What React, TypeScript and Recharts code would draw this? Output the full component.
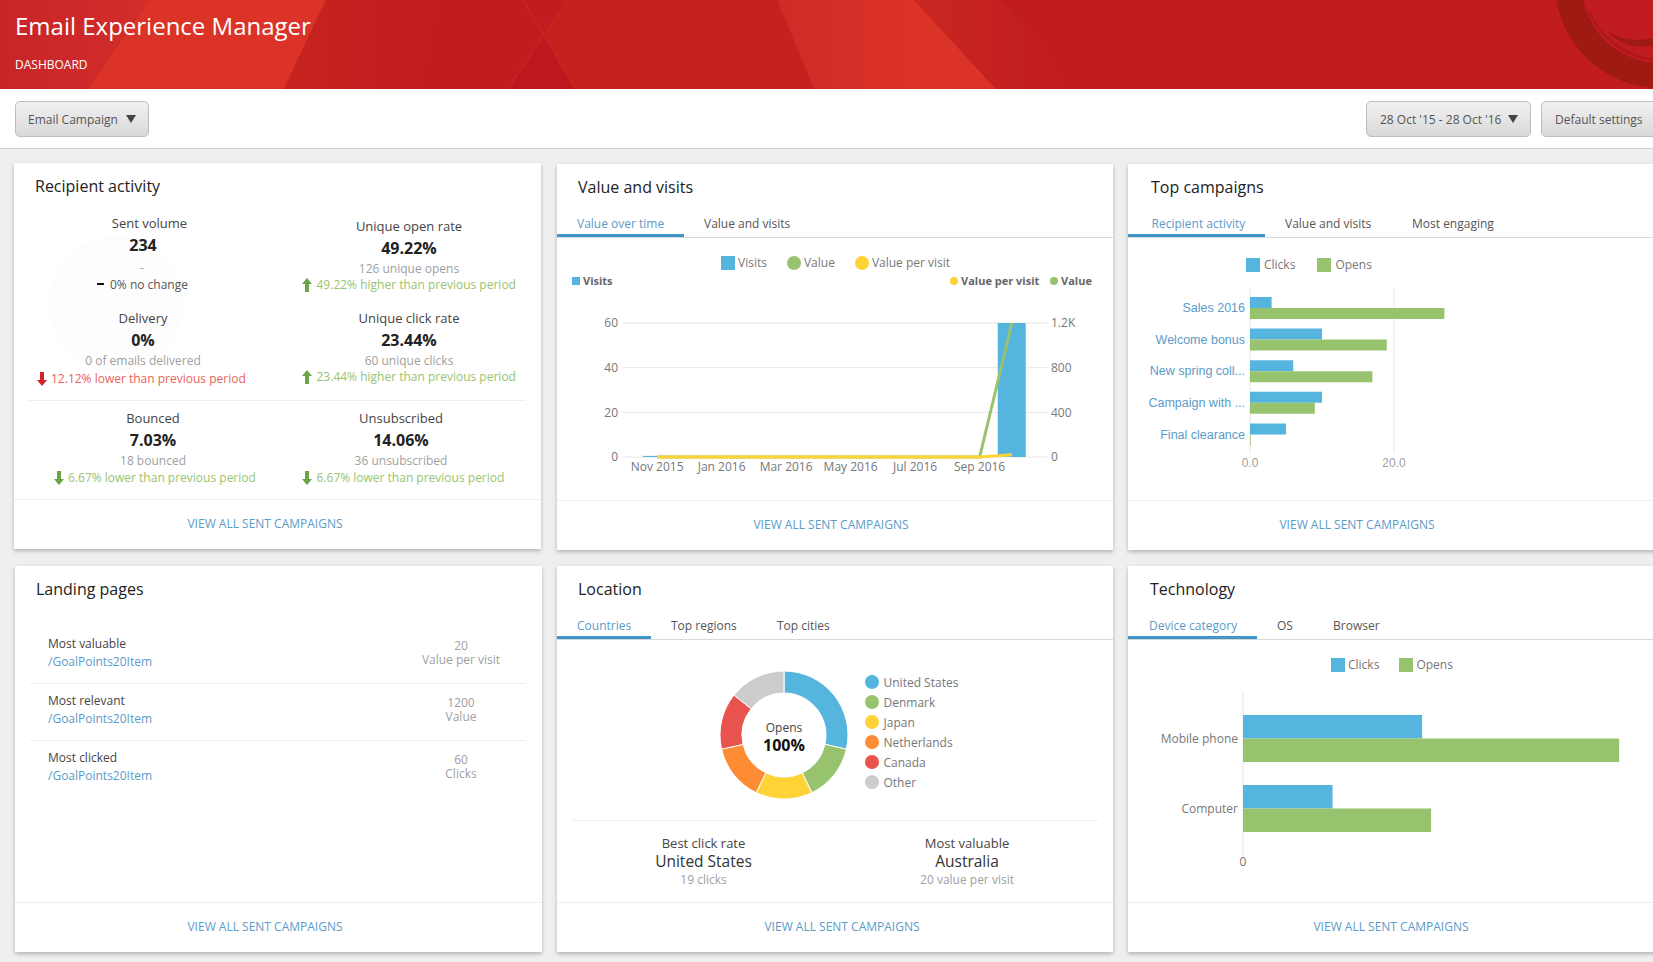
import { Bar, BarChart, CartesianGrid, Cell, ComposedChart, Legend, Line, Pie, PieChart, XAxis, YAxis } from "recharts";

const BLUE = "#55b5df";
const GREEN = "#97c36f";
const YELLOW = "#fdd336";
const FONT = "'Open Sans', sans-serif";
const ARIAL = "'Liberation Sans', Arial, sans-serif";
const LINK = "#5b9bc8";

const months = ["Nov 2015", "Dec 2015", "Jan 2016", "Feb 2016", "Mar 2016", "Apr 2016", "May 2016", "Jun 2016", "Jul 2016", "Aug 2016", "Sep 2016", "Oct 2016"];
const visits = [0.5, 0, 0, 0, 0, 0, 0, 0, 0, 0, 0, 60];
const value = [0, 0, 0, 0, 0, 0, 0, 0, 0, 0, 0, 1200];
const valuePerVisit = [0, 0, 0, 0, 0, 0, 0, 0, 0, 0, 0, 20];

const campaigns = ["Sales 2016", "Welcome bonus", "New spring coll...", "Campaign with ...", "Final clearance"];
const campaignClicks = [3, 10, 6, 10, 5];
const campaignOpens = [27, 19, 17, 9, 0.1];

const countries = ["United States", "Denmark", "Japan", "Netherlands", "Canada", "Other"];
const countryOpens = [2, 1, 1, 1, 1, 1];
const countryColors = [BLUE, GREEN, YELLOW, "#fd8c35", "#e9534e", "#cccccc"];

const devices = ["Mobile phone", "Computer"];
const deviceClicks = [40, 20];
const deviceOpens = [84, 42];

const timeData = months.map((month, i) => ({ month, visits: visits[i], value: value[i], valuePerVisit: valuePerVisit[i] }));
const campaignData = campaigns.map((name, i) => ({ name, clicks: campaignClicks[i], opens: campaignOpens[i] }));
const countryData = countries.map((name, i) => ({ name, opens: countryOpens[i] }));
const deviceData = devices.map((name, i) => ({ name, clicks: deviceClicks[i], opens: deviceOpens[i] }));

// y is the vertical centre of the text
function T({ x, y, children, size = 12, color = "#777", bold = false, center = false, font = FONT }: any) {
  const lh = Math.round(size * 1.2);
  return (
    <div
      style={{
        position: "absolute",
        left: x,
        top: y - lh / 2,
        height: lh,
        lineHeight: `${lh}px`,
        fontSize: size,
        color,
        fontWeight: bold ? 700 : 400,
        fontFamily: font,
        whiteSpace: "nowrap",
        transform: center ? "translateX(-50%)" : undefined,
      }}
    >
      {children}
    </div>
  );
}

function Box({ x, y, w, h, style }: any) {
  return <div style={{ position: "absolute", left: x, top: y, width: w, height: h, ...style }} />;
}

function Card({ x, y, w, h, footerY, footerX, footerDy = 24.5 }: any) {
  return (
    <>
      <Box x={x} y={y} w={w} h={h} style={{ background: "#fff", boxShadow: "0 2px 4px rgba(0,0,0,0.25)" }} />
      <Box x={x} y={footerY} w={w} h={1} style={{ background: "#eeeeee" }} />
      <T x={footerX} y={footerY + footerDy} color={LINK} center>VIEW ALL SENT CAMPAIGNS</T>
    </>
  );
}

function Tabs({ x, w, y, activeW, labels }: any) {
  return (
    <>
      <Box x={x} y={y} w={w} h={1} style={{ background: "#d8d8d8" }} />
      <Box x={x} y={y - 3} w={activeW} h={3} style={{ background: "#3f97c9" }} />
      {labels.map((l: any, i: number) => (
        <T key={l[0]} x={l[1]} y={y - 13.5} color={i === 0 ? LINK : "#555"}>{l[0]}</T>
      ))}
    </>
  );
}

function Button({ x, w, label, textX, arrowX }: any) {
  return (
    <>
      <Box x={x} y={101} w={w} h={36} style={{ boxSizing: "border-box", border: "1px solid #bdbdbd", borderRadius: 5, background: "linear-gradient(#f1f1f1, #d9d9d9)" }} />
      <T x={textX} y={119.5} color="#555">{label}</T>
      {arrowX ? <Box x={arrowX - 5} y={115} w={0} h={0} style={{ borderLeft: "5px solid transparent", borderRight: "5px solid transparent", borderTop: "8px solid #444" }} /> : null}
    </>
  );
}

function Arrow({ x, y, up, color }: any) {
  return (
    <svg style={{ position: "absolute", left: x, top: y - 7 }} width={10} height={14}>
      <path d={up ? "M5 0 L10 6 L7 6 L7 14 L3 14 L3 6 L0 6 Z" : "M5 14 L10 8 L7 8 L7 0 L3 0 L3 8 L0 8 Z"} fill={color} />
    </svg>
  );
}

function Stat({ cx, y, title, big, sub, change, changeX, arrowX, up, good = true, changeDy = 60 }: any) {
  const tone = good ? "#97c36f" : "#e9625c";
  const arrowTone = good ? "#6aa548" : "#d2232a";
  return (
    <>
      <T x={cx} y={y} color="#444" size={13} center>{title}</T>
      <T x={cx} y={y + 22} color="#222" size={16} bold center>{big}</T>
      <T x={cx} y={y + 42.5} color="#a0a0a0" center>{sub}</T>
      <Arrow x={arrowX} y={y + changeDy} up={up} color={arrowTone} />
      <T x={changeX} y={y + changeDy} color={tone}>{change}</T>
    </>
  );
}

function SquareLegend({ items, gap, x, y, textGap = 3 }: any) {
  return (
    <div style={{ position: "absolute", left: x, top: y, display: "flex", fontFamily: FONT, fontSize: 12, color: "#777", lineHeight: "14px", whiteSpace: "nowrap" }}>
      {items.map((it: any, i: number) => (
        <span key={it.value} style={{ display: "flex", alignItems: "center", marginLeft: i ? gap : 0 }}>
          <span style={{ width: 14, height: 14, marginRight: textGap, background: it.color, borderRadius: it.type === "circle" ? 7 : 0 }} />
          {it.value}
        </span>
      ))}
    </div>
  );
}

function ValueChart() {
  return (
    <ComposedChart
      width={556}
      height={240}
      data={timeData}
      margin={{ top: 83, right: 16, bottom: 0, left: 15 }}
      style={{ position: "absolute", left: 557, top: 240 }}
    >
      <CartesianGrid vertical={false} stroke="#e6e6e6" yAxisId="left" syncWithTicks />
      <XAxis dataKey="month" interval={1} axisLine={false} tickLine={false} padding={{ left: 19, right: 19 }} tick={{ fontSize: 12, fill: "#777", fontFamily: FONT }} tickSize={5} tickMargin={0} height={23} />
      <YAxis yAxisId="left" width={50} domain={[0, 60]} ticks={[0, 20, 40, 60]} axisLine={false} tickLine={false} tickSize={0} tickMargin={4} tick={{ fontSize: 12, fill: "#777", fontFamily: FONT }} />
      <YAxis yAxisId="right" orientation="right" width={50} domain={[0, 1200]} ticks={[0, 400, 800, 1200]} axisLine={false} tickLine={false} tickSize={0} tickMargin={4} tickFormatter={(v) => (v >= 1000 ? `${v / 1000}K` : `${v}`)} tick={{ fontSize: 12, fill: "#777", fontFamily: FONT }} />
      <Legend
        content={() => (
          <SquareLegend
            x={164}
            y={16}
            gap={20}
            items={[
              { value: "Visits", color: BLUE },
              { value: "Value", color: GREEN, type: "circle" },
              { value: "Value per visit", color: YELLOW, type: "circle" },
            ]}
          />
        )}
        wrapperStyle={{ left: 0, top: 0, width: 556, height: 0 }}
      />
      <Bar yAxisId="left" dataKey="visits" name="Visits" fill={BLUE} barSize={28} isAnimationActive={false} />
      <Line yAxisId="right" dataKey="value" name="Value" stroke={GREEN} strokeWidth={3} dot={false} isAnimationActive={false} />
      <Line yAxisId="right" dataKey="valuePerVisit" name="Value per visit" stroke={YELLOW} strokeWidth={3} dot={false} isAnimationActive={false} />
    </ComposedChart>
  );
}

function CampaignChart() {
  return (
    <BarChart
      width={525}
      height={200}
      data={campaignData}
      layout="vertical"
      barGap={0}
      margin={{ top: 17, right: 115, bottom: 0, left: 0 }}
      style={{ position: "absolute", left: 1128, top: 270 }}
    >
      <CartesianGrid horizontal={false} stroke="#e6e6e6" syncWithTicks />
      <XAxis type="number" domain={[0, 40]} ticks={[0, 20]} tickFormatter={(v) => v.toFixed(1)} axisLine={false} tickLine={false} tick={{ fontSize: 12, fill: "#a0a0a0", fontFamily: ARIAL }} tickSize={5} tickMargin={0} height={17} />
      <YAxis type="category" dataKey="name" width={122} interval={0} axisLine={false} tickLine={false} padding={{ top: 5, bottom: 3 }} tickSize={0} tickMargin={5} tick={{ fontSize: 12.5, fill: LINK, fontFamily: ARIAL }} />
      <Legend
        content={() => (
          <SquareLegend x={118} y={-12} gap={22} textGap={4} items={[{ value: "Clicks", color: BLUE }, { value: "Opens", color: GREEN }]} />
        )}
        wrapperStyle={{ left: 0, top: 0, width: 525, height: 0 }}
      />
      <Bar dataKey="clicks" name="Clicks" fill={BLUE} barSize={11} isAnimationActive={false} />
      <Bar dataKey="opens" name="Opens" fill={GREEN} barSize={11} isAnimationActive={false} />
    </BarChart>
  );
}

function CountryChart() {
  return (
    <PieChart width={556} height={150} margin={{ top: 0, right: 0, bottom: 0, left: 0 }} style={{ position: "absolute", left: 557, top: 659 }}>
      <Legend
        content={() => (
          <div style={{ position: "absolute", left: 308, top: 13, fontFamily: FONT, fontSize: 12, color: "#777", whiteSpace: "nowrap" }}>
            {countries.map((c, i) => (
              <div key={c} style={{ display: "flex", alignItems: "center", height: 20 }}>
                <span style={{ width: 14, height: 14, borderRadius: 7, marginRight: 4.5, background: countryColors[i] }} />
                {c}
              </div>
            ))}
          </div>
        )}
        wrapperStyle={{ left: 0, top: 0, width: 556, height: 0 }}
      />
      <Pie
        data={countryData}
        dataKey="opens"
        nameKey="name"
        cx={227}
        cy={76}
        innerRadius={42}
        outerRadius={64}
        startAngle={90}
        endAngle={-270}
        stroke="#fff"
        strokeWidth={1}
        isAnimationActive={false}
      >
        {countryData.map((d, i) => (
          <Cell key={d.name} fill={countryColors[i]} />
        ))}
      </Pie>
    </PieChart>
  );
}

function DeviceChart() {
  return (
    <BarChart
      width={525}
      height={190}
      data={deviceData}
      layout="vertical"
      barGap={0}
      margin={{ top: 12, right: 7, bottom: 0, left: 15 }}
      style={{ position: "absolute", left: 1128, top: 680 }}
    >
      <CartesianGrid horizontal={false} stroke="#e6e6e6" syncWithTicks />
      <XAxis type="number" domain={[0, 90]} ticks={[0]} axisLine={false} tickLine={false} tick={{ fontSize: 12, fill: "#777", fontFamily: FONT }} tickSize={0} tickMargin={0} height={13} />
      <YAxis type="category" dataKey="name" width={100} interval={0} axisLine={false} tickLine={false} padding={{ top: 11, bottom: 14 }} tickSize={0} tickMargin={5} tick={{ fontSize: 12, fill: "#777", fontFamily: FONT, dy: 1 }} />
      <Legend
        content={() => (
          <SquareLegend x={203} y={-22} gap={20} items={[{ value: "Clicks", color: BLUE }, { value: "Opens", color: GREEN }]} />
        )}
        wrapperStyle={{ left: 0, top: 0, width: 525, height: 0 }}
      />
      <Bar dataKey="clicks" name="Clicks" fill={BLUE} barSize={23.5} isAnimationActive={false} />
      <Bar dataKey="opens" name="Opens" fill={GREEN} barSize={23.5} isAnimationActive={false} />
    </BarChart>
  );
}

function Header() {
  return (
    <svg style={{ position: "absolute", left: 0, top: 0 }} width={1653} height={89}>
      <defs>
        <linearGradient id="left" x1="0" x2="1" y1="0" y2="0">
          <stop offset="0" stopColor="#c82529" />
          <stop offset="1" stopColor="#d22d29" />
        </linearGradient>
        <linearGradient id="bright" x1="0" x2="1" y1="0" y2="0">
          <stop offset="0" stopColor="#d02b26" />
          <stop offset="0.7" stopColor="#dd3428" />
          <stop offset="1" stopColor="#da3228" />
        </linearGradient>
        <linearGradient id="mid" x1="0" x2="1" y1="0" y2="0">
          <stop offset="0" stopColor="#c92720" />
          <stop offset="1" stopColor="#c01b20" />
        </linearGradient>
        <linearGradient id="dim" x1="0" x2="1" y1="0" y2="0">
          <stop offset="0" stopColor="#c7241f" />
          <stop offset="1" stopColor="#c11c20" />
        </linearGradient>
      </defs>
      <rect width={1653} height={89} fill="#c11c20" />
      <polygon points="0,0 149,0 88,89 0,89" fill="url(#left)" />
      <polygon points="149,0 326,0 284,89 88,89" fill="#dc3328" />
      <polygon points="326,0 440,0 420,89 284,89" fill="url(#dim)" />
      <polygon points="567,0 777,0 814,89 508,89" fill="#c4211f" />
      <polygon points="544,35 508,89 575,89" fill="#bd181d" />
      <line x1={523} y1={0} x2={575} y2={89} stroke="#cd2a27" />
      <line x1={567} y1={0} x2={508} y2={89} stroke="#cd2a27" />
      <polygon points="777,0 914,0 996,89 814,89" fill="url(#bright)" />
      <polygon points="914,0 1000,0 1080,89 996,89" fill="url(#mid)" />
      <circle cx={1660} cy={-17} r={105} fill="#a01a14" />
      <circle cx={1660} cy={-15} r={78} fill="#c01b20" />
      <path d="M1589 12 Q1608 52 1653 60" fill="none" stroke="#a01a14" strokeWidth={1.5} />
      <path d="M1608 32 Q1630 44 1653 38 L1653 46 Q1625 50 1608 32 Z" fill="#a01a14" />
    </svg>
  );
}

export default function App() {
  return (
    <div style={{ position: "absolute", left: 0, top: 0, width: 1653, height: 962, overflow: "hidden", background: "#efefef", fontFamily: FONT }}>
      <Header />
      <T x={15} y={25.5} size={24} color="#fff">Email Experience Manager</T>
      <T x={15} y={65} size={12} color="#fff">DASHBOARD</T>
      <Box x={0} y={89} w={1653} h={59} style={{ background: "#fff", borderBottom: "1px solid #cfcfcf" }} />
      <Button x={15} w={134} label="Email Campaign" textX={28} arrowX={131} />
      <Button x={1366} w={165} label="28 Oct '15 - 28 Oct '16" textX={1380} arrowX={1513} />
      <Button x={1541} w={130} label="Default settings" textX={1555} />

      <Card x={14} y={163} w={527} h={386} footerY={499} footerX={265} />
      <Card x={557} y={164} w={556} h={386} footerY={500} footerX={831} />
      <Card x={1128} y={164} w={540} h={386} footerY={500} footerX={1357} />

      {/* recipient activity */}
      <T x={35} y={186} size={16} color="#222">Recipient activity</T>
      <Box x={48} y={236} w={136} h={136} style={{ borderRadius: "50%", background: "#fdfdfd" }} />
      <T x={149.5} y={223} color="#444" size={13} center>Sent volume</T>
      <T x={143} y={245} color="#222" size={16} bold center>234</T>
      <T x={142} y={268} color="#a0a0a0" center>-</T>
      <Box x={97} y={283} w={7} h={2} style={{ background: "#111" }} />
      <T x={110} y={285} color="#555">0% no change</T>
      <Stat cx={143} y={318} title="Delivery" big="0%" sub="0 of emails delivered" change="12.12% lower than previous period" changeX={51} arrowX={37} good={false} changeDy={61} />
      <Stat cx={409} y={226} title="Unique open rate" big="49.22%" sub="126 unique opens" change="49.22% higher than previous period" changeX={316.5} arrowX={302} up changeDy={59} />
      <Stat cx={409} y={318} title="Unique click rate" big="23.44%" sub="60 unique clicks" change="23.44% higher than previous period" changeX={316.5} arrowX={302} up changeDy={59} />
      <Box x={29} y={400} w={497} h={1} style={{ background: "#eeeeee" }} />
      <Stat cx={153} y={418} title="Bounced" big="7.03%" sub="18 bounced" change="6.67% lower than previous period" changeX={68} arrowX={54} />
      <Stat cx={401} y={418} title="Unsubscribed" big="14.06%" sub="36 unsubscribed" change="6.67% lower than previous period" changeX={316.5} arrowX={302} />

      {/* value and visits */}
      <T x={578} y={187} size={16} color="#222">Value and visits</T>
      <Tabs x={557} w={556} y={237} activeW={127} labels={[["Value over time", 577], ["Value and visits", 704]]} />
      <ValueChart />
      <Box x={572} y={277} w={8} h={8} style={{ background: BLUE }} />
      <T x={583} y={280.5} size={11} bold color="#666">Visits</T>
      <Box x={950} y={277} w={8} h={8} style={{ background: YELLOW, borderRadius: 4 }} />
      <T x={961} y={280.5} size={11} bold color="#666">Value per visit</T>
      <Box x={1050} y={277} w={8} h={8} style={{ background: GREEN, borderRadius: 4 }} />
      <T x={1061} y={280.5} size={11} bold color="#666">Value</T>

      {/* top campaigns */}
      <T x={1151} y={187} size={16} color="#222">Top campaigns</T>
      <Tabs x={1128} w={525} y={237} activeW={137} labels={[["Recipient activity", 1151.5], ["Value and visits", 1285], ["Most engaging", 1412]]} />
      <CampaignChart />

      {/* bottom row */}
      <Card x={15} y={566} w={527} h={386} footerY={902} footerX={265} footerDy={25} />
      <Card x={557} y={566} w={556} h={386} footerY={902} footerX={842} footerDy={25} />
      <Card x={1128} y={566} w={540} h={386} footerY={902} footerX={1391} footerDy={25} />

      <T x={36} y={589} size={16} color="#222">Landing pages</T>
      {[
        ["Most valuable", "20", "Value per visit", 644],
        ["Most relevant", "1200", "Value", 701],
        ["Most clicked", "60", "Clicks", 758],
      ].map((r: any) => (
        <div key={r[0]}>
          <T x={48} y={r[3]} color="#444">{r[0]}</T>
          <T x={48} y={r[3] + 18} color={LINK}>/GoalPoints20Item</T>
          <T x={461} y={r[3] + 1.5} color="#a0a0a0" center>{r[1]}</T>
          <T x={461} y={r[3] + 16} color="#a0a0a0" center>{r[2]}</T>
        </div>
      ))}
      <Box x={30} y={683} w={496} h={1} style={{ background: "#eeeeee" }} />
      <Box x={30} y={740} w={496} h={1} style={{ background: "#eeeeee" }} />

      <T x={578} y={589} size={16} color="#222">Location</T>
      <Tabs x={557} w={556} y={639} activeW={94} labels={[["Countries", 577], ["Top regions", 671], ["Top cities", 777]]} />
      <CountryChart />
      <T x={784} y={728} color="#444" center>Opens</T>
      <T x={784} y={745} size={16} bold color="#111" center>100%</T>
      <Box x={572} y={820} w={526} h={1} style={{ background: "#eeeeee" }} />
      <T x={703.5} y={843} size={13} color="#444" center>Best click rate</T>
      <T x={703.5} y={861.5} size={15.5} color="#333" center>United States</T>
      <T x={703.5} y={880} color="#a0a0a0" center>19 clicks</T>
      <T x={967} y={843} size={13} color="#444" center>Most valuable</T>
      <T x={967} y={861.5} size={15.5} color="#333" center>Australia</T>
      <T x={967} y={880} color="#a0a0a0" center>20 value per visit</T>

      <T x={1150} y={589} size={16} color="#222">Technology</T>
      <Tabs x={1128} w={525} y={639} activeW={129} labels={[["Device category", 1149], ["OS", 1277], ["Browser", 1333]]} />
      <DeviceChart />
    </div>
  );
}
